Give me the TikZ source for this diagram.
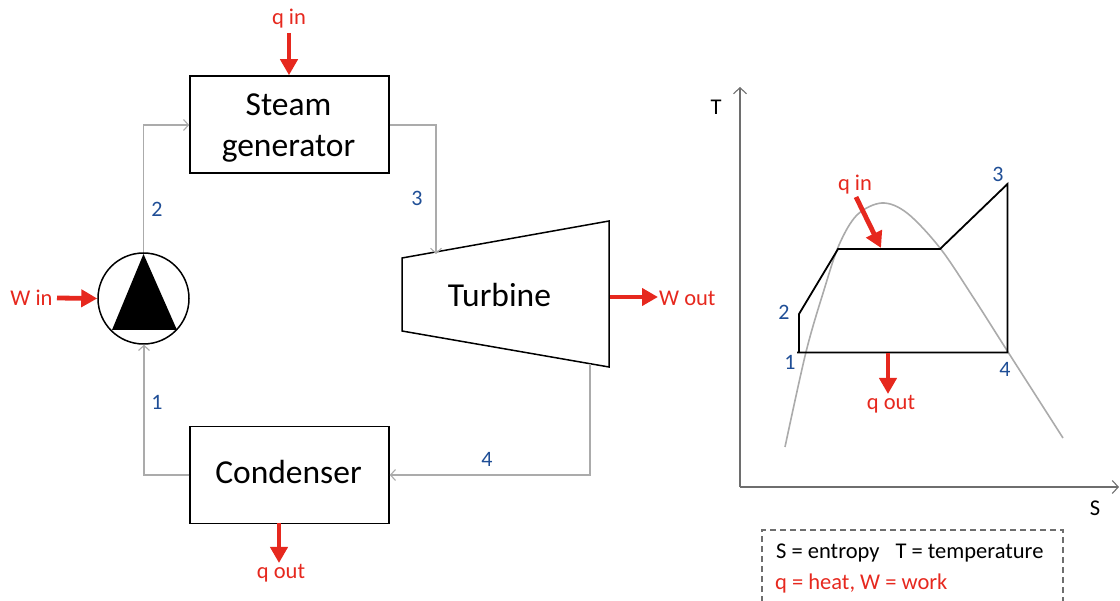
\documentclass[tikz,border=0pt]{standalone}
\usepackage{fontspec}
\setmainfont{Carlito}
\usetikzlibrary{arrows.meta,calc}
\definecolor{redc}{HTML}{E6281E}
\definecolor{bluec}{HTML}{1F4E96}
\definecolor{grayc}{HTML}{ABABAB}
\definecolor{axisc}{HTML}{6E6E6E}
\tikzset{
  box/.style={draw=black,line width=1.5pt,minimum width=199pt,minimum height=97pt,inner sep=0pt},
  boxtext/.style={inner sep=0pt,align=center,font=\fontsize{33.5}{41}\selectfont},
  pipe/.style={draw=grayc,line width=1.2pt,-{Straight Barb[length=5pt,width=11pt,line width=1.1pt]}},
  heat/.style={draw=redc,fill=redc,line width=4.8pt,-{Triangle[length=16pt,width=17pt]}},
  redlabel/.style={text=redc,font=\fontsize{22.5}{26}\selectfont,inner sep=0pt},
  bluelabel/.style={text=bluec,font=\fontsize{22}{26}\selectfont,inner sep=0pt},
  blacklabel/.style={text=black,font=\fontsize{22.5}{26}\selectfont,inner sep=0pt},
  axis/.style={draw=axisc,line width=1.4pt,-{Straight Barb[length=6pt,width=13pt,line width=1.1pt]}},
  cycle line/.style={draw=black,line width=1.8pt,line join=miter},
}
\begin{document}
\begin{tikzpicture}[x=1pt,y=-1pt]
\useasboundingbox (0,0) rectangle (1120,601);
\clip (0,0) rectangle (1120,601);
% components
\node[box] (sg) at (289.5,124.5) {};
\node[boxtext] (sgtext) at (288.5,128) {Steam\\generator};
\node[box] (cond) at (289.5,475) {};
\node[boxtext] (condtext) at (288.5,472) {Condenser};
\node[draw=black,line width=1.5pt,circle,minimum size=91pt,inner sep=0pt] (pump) at (143.5,298.5) {};
\fill[black] (143.5,254) -- (177,330) -- (112,330) -- cycle;
\draw[line width=1.5pt,line join=miter] (402,258) -- (609,221) -- (609,367) -- (402,331) -- cycle;
\node[boxtext] (turb) at (499.5,295) {Turbine};
\coordinate (tin) at (436,254);
\coordinate (tout) at (590,364);
% pipes
\draw[pipe] (pump.north) |- ($(sg.west)+(0,0.5)$);
\draw[pipe] ($(sg.east)+(0,0.5)$) -| (tin);
\draw[pipe] (tout) |- (cond.east);
\draw[pipe] (cond.west) -| ([xshift=0.5pt]pump.south);
% state labels
\node[bluelabel] (n2) at (157,209) {2};
\node[bluelabel] (n3) at (417,198) {3};
\node[bluelabel] (n4) at (487,459) {4};
\node[bluelabel] (n1) at (157,402) {1};
% red flows
\coordinate (qa) at (289,33);
\coordinate (wa) at (57,298);
\node[redlabel] (qin) at (289,18.5) {q in};
\draw[heat] (qa) -- (sg.north -| qa);
\node[redlabel] (win) at (31.5,298) {W in};
\draw[heat] (wa) -- (pump.west);
\node[redlabel,anchor=west] (wout) at (659,298) {W out};
\coordinate (wo) at (610,297);
\draw[heat] (wo) -- (658,297);
\coordinate (qo) at (279,523);
\node[redlabel] (qout) at (281,573.5) {q out};
\draw[heat] (qo) -- (279,563);
% T-S diagram
\coordinate (o) at (740,487);
\coordinate (ty) at (740,87);
\coordinate (sx) at (1119,487);
\draw[axis] (o) -- (ty);
\draw[axis] (o) -- (sx);
\node[blacklabel] (T) at (716,107) {T};
\node[blacklabel] (S) at (1095,508) {S};
\draw[draw=grayc,line width=1.6pt] plot[smooth,tension=0.55] coordinates {
 (785,447) (806,352) (824,290) (839,245) (857,215) (882,203) (907,213) (940,248) (973,297) (1008,352) (1063,438)};
\coordinate (c1) at (797,352.5);
\coordinate (c1b) at (799,352.5);
\coordinate (c2) at (799,314);
\coordinate (c2b) at (838,249);
\coordinate (c3a) at (940,249);
\coordinate (c3) at (1007.5,184);
\coordinate (c4) at (1007.5,352.5);
\draw[cycle line] (c1b) -- (c2) -- (c2b) -- (c3a) -- (c3) -- (c4) -- (c1);
\node[bluelabel] (s1) at (790,362) {1};
\node[bluelabel] (s2) at (784,312) {2};
\node[bluelabel] (s3) at (998,174) {3};
\node[bluelabel] (s4) at (1005,369) {4};
\coordinate (hia) at (856,197);
\coordinate (hib) at (881,248);
\coordinate (hoa) at (888,353);
\coordinate (hob) at (888,394);
\draw[heat] (hia) -- (hib);
\draw[heat] (hoa) -- (hob);
\node[redlabel] (qin2) at (855,185) {q in};
\node[redlabel] (qout2) at (891,404) {q out};
% legend
\draw[draw=axisc,line width=1.4pt,dash pattern=on 6pt off 4pt] (762,612) -- (762,530) -- (1063,530) -- (1063,612);
\node[blacklabel,anchor=west] (leg1) at (776,553) {S = entropy\hspace{11pt} T = temperature};
\node[redlabel,anchor=west] (leg2) at (775,583.5) {q = heat, W = work};
\end{tikzpicture}
\end{document}
